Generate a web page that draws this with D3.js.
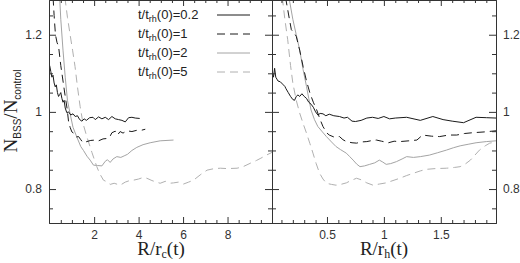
<!DOCTYPE html>
<html>
<head>
<meta charset="utf-8">
<script src="https://cdn.jsdelivr.net/npm/d3@7"></script>
<style>
  body { margin: 0; background: #fff; }
  svg { display: block; }
</style>
</head>
<body>
<div id="chart"></div>
<script>
// legend labels (t / t_rh(0))
var seriesLabels = ["0.2", "1", "2", "5"];

// left panel, x = R / r_c(t)
var rcT02 = [[0.0,1.12],[0.05,1.105],[0.1,1.09],[0.15,1.095],[0.2,1.075],[0.25,1.065],[0.3,1.07],[0.35,1.05],[0.4,1.04],[0.45,1.045],[0.5,1.05],[0.55,1.035],[0.6,1.025],[0.65,1.03],[0.7,1.01],[0.77,0.998],[0.85,1.0],[0.95,0.992],[1.05,0.995],[1.15,0.988],[1.25,0.99],[1.35,0.98],[1.45,0.976],[1.55,0.982],[1.65,0.978],[1.8,0.985],[1.95,0.986],[2.05,0.98],[2.2,0.987],[2.35,0.982],[2.5,0.986],[2.65,0.98],[2.8,0.988],[2.95,0.982],[3.1,0.98],[3.25,0.978],[3.4,0.974],[3.55,0.985],[3.7,0.986],[3.85,0.984],[4.05,0.983]];
var rcT1 = [[0.12,1.33],[0.2,1.25],[0.26,1.2],[0.33,1.18],[0.4,1.17],[0.5,1.12],[0.6,1.08],[0.7,1.04],[0.78,1.01],[0.85,0.975],[0.92,0.96],[1.0,0.948],[1.1,0.944],[1.2,0.935],[1.3,0.936],[1.4,0.928],[1.5,0.92],[1.67,0.923],[1.85,0.926],[2.05,0.927],[2.2,0.925],[2.4,0.93],[2.57,0.931],[2.7,0.935],[2.8,0.946],[2.95,0.95],[3.05,0.94],[3.17,0.949],[3.3,0.945],[3.47,0.951],[3.7,0.949],[3.9,0.952],[4.1,0.952],[4.3,0.955]];
var rcT2 = [[0.42,1.33],[0.5,1.24],[0.6,1.16],[0.7,1.09],[0.8,1.03],[0.92,0.995],[1.05,0.96],[1.22,0.935],[1.4,0.91],[1.52,0.9],[1.68,0.885],[1.82,0.875],[1.97,0.862],[2.15,0.861],[2.35,0.86],[2.5,0.872],[2.6,0.876],[2.72,0.869],[2.85,0.878],[3.02,0.884],[3.2,0.882],[3.35,0.886],[3.5,0.89],[3.7,0.9],[3.92,0.908],[4.2,0.915],[4.52,0.92],[4.97,0.925],[5.57,0.927]];
var rcT5 = [[0.62,1.33],[0.7,1.29],[0.8,1.245],[0.92,1.2],[1.03,1.16],[1.14,1.118],[1.25,1.065],[1.37,1.014],[1.5,0.97],[1.67,0.936],[1.9,0.895],[2.12,0.858],[2.25,0.84],[2.42,0.823],[2.6,0.818],[2.72,0.812],[2.9,0.815],[3.17,0.81],[3.4,0.818],[3.6,0.822],[3.77,0.823],[4.0,0.826],[4.2,0.83],[4.37,0.828],[4.6,0.822],[4.8,0.818],[4.97,0.815],[5.2,0.82],[5.4,0.815],[5.57,0.816],[5.8,0.818],[6.02,0.813],[6.25,0.818],[6.47,0.823],[6.8,0.838],[7.08,0.849],[7.4,0.853],[7.68,0.854],[8.0,0.853],[8.43,0.854],[8.7,0.858],[9.03,0.867],[9.3,0.874],[9.5,0.88],[9.75,0.888],[10.0,0.895]];

// right panel, x = R / r_h(t)
var rhT02 = [[0.017,1.105],[0.03,1.09],[0.04,1.113],[0.05,1.09],[0.06,1.085],[0.07,1.08],[0.09,1.078],[0.11,1.072],[0.13,1.066],[0.14,1.06],[0.16,1.05],[0.18,1.04],[0.2,1.032],[0.215,1.03],[0.23,1.04],[0.245,1.044],[0.26,1.04],[0.28,1.047],[0.3,1.04],[0.32,1.035],[0.34,1.025],[0.36,1.02],[0.38,1.012],[0.4,1.0],[0.42,0.992],[0.44,0.996],[0.465,0.995],[0.49,0.99],[0.52,0.994],[0.56,0.99],[0.61,0.988],[0.65,0.984],[0.68,0.986],[0.72,0.976],[0.75,0.975],[0.8,0.978],[0.85,0.984],[0.9,0.986],[0.95,0.983],[1.0,0.988],[1.05,0.982],[1.1,0.984],[1.2,0.986],[1.32,0.978],[1.43,0.988],[1.52,0.98],[1.6,0.976],[1.7,0.972],[1.81,0.986],[1.9,0.985],[1.985,0.984]];
var rhT1 = [[0.12,1.33],[0.14,1.29],[0.17,1.24],[0.187,1.213],[0.21,1.205],[0.23,1.196],[0.26,1.16],[0.29,1.118],[0.32,1.08],[0.35,1.049],[0.38,1.025],[0.41,1.005],[0.44,0.98],[0.465,0.962],[0.5,0.945],[0.52,0.94],[0.56,0.935],[0.61,0.936],[0.64,0.928],[0.67,0.923],[0.72,0.92],[0.76,0.919],[0.8,0.922],[0.85,0.923],[0.9,0.926],[0.935,0.927],[0.98,0.924],[1.04,0.92],[1.09,0.924],[1.14,0.923],[1.22,0.925],[1.29,0.927],[1.34,0.94],[1.42,0.937],[1.49,0.936],[1.57,0.94],[1.64,0.94],[1.71,0.944],[1.78,0.946],[1.88,0.948],[1.985,0.951]];
var rhT2 = [[0.15,1.33],[0.17,1.29],[0.2,1.24],[0.23,1.2],[0.26,1.161],[0.29,1.11],[0.32,1.066],[0.34,1.035],[0.36,1.005],[0.39,0.98],[0.42,0.962],[0.46,0.948],[0.495,0.936],[0.54,0.922],[0.58,0.91],[0.62,0.902],[0.67,0.893],[0.7,0.884],[0.73,0.875],[0.76,0.865],[0.79,0.858],[0.83,0.86],[0.875,0.864],[0.92,0.868],[0.96,0.875],[0.99,0.87],[1.02,0.864],[1.06,0.866],[1.11,0.871],[1.16,0.878],[1.2,0.884],[1.26,0.882],[1.32,0.884],[1.4,0.888],[1.47,0.894],[1.55,0.901],[1.61,0.907],[1.67,0.912],[1.74,0.916],[1.81,0.92],[1.9,0.923],[1.985,0.925]];
var rhT5 = [[0.09,1.33],[0.11,1.29],[0.13,1.24],[0.155,1.187],[0.18,1.12],[0.2,1.075],[0.23,1.03],[0.26,0.997],[0.29,0.97],[0.32,0.945],[0.35,0.918],[0.377,0.893],[0.405,0.866],[0.435,0.841],[0.465,0.826],[0.495,0.815],[0.54,0.812],[0.58,0.81],[0.62,0.812],[0.67,0.816],[0.71,0.822],[0.76,0.828],[0.8,0.824],[0.85,0.816],[0.905,0.81],[0.96,0.813],[1.02,0.816],[1.08,0.822],[1.14,0.828],[1.2,0.835],[1.26,0.841],[1.32,0.847],[1.37,0.851],[1.45,0.853],[1.55,0.854],[1.62,0.856],[1.67,0.858],[1.72,0.866],[1.76,0.875],[1.8,0.888],[1.84,0.901],[1.89,0.912],[1.93,0.919],[1.985,0.922]];

// tick values
var yMajor = [0.8, 1, 1.2];
var yMinor = [0.75, 0.85, 0.9, 0.95, 1.05, 1.1, 1.15, 1.25];
var rcMajor = [2, 4, 6, 8];
var rcMinor = [0.5, 1, 1.5, 2.5, 3, 3.5, 4.5, 5, 5.5, 6.5, 7, 7.5, 8.5, 9, 9.5];
var rhMajor = [0.5, 1, 1.5];
var rhMinor = [0.1, 0.2, 0.3, 0.4, 0.6, 0.7, 0.8, 0.9, 1.1, 1.2, 1.3, 1.4, 1.6, 1.7, 1.8, 1.9];

var width = 520, height = 263;
// frame edges in pixels ("top" is taken by window, so plotTop)
var plotTop = 0, plotBottom = 223, plotLeft = 49, plotMid = 272, plotRight = 496;

// line styles for the four runs
var styles = [
  {color: "#1a1a1a", dash: null},
  {color: "#1a1a1a", dash: "8,5"},
  {color: "#a4a4a4", dash: null},
  {color: "#b0b0b0", dash: "8,5"}
];

var serif = "'Liberation Serif', 'Times New Roman', serif";
var sans = "'Liberation Sans', Arial, sans-serif";

var svg = d3.select("#chart").append("svg")
  .attr("width", width)
  .attr("height", height);

var y = d3.scaleLinear().domain([0.712, 1.29]).range([plotBottom, plotTop]);
var xRc = d3.scaleLinear().domain([-0.03, 10.0]).range([plotLeft, plotMid]);
var xRh = d3.scaleLinear().domain([0.017, 1.985]).range([plotMid, plotRight]);

var defs = svg.append("defs");
defs.append("clipPath").attr("id", "clipL").append("rect")
  .attr("x", plotLeft).attr("y", plotTop)
  .attr("width", plotMid - plotLeft).attr("height", plotBottom - plotTop);
defs.append("clipPath").attr("id", "clipR").append("rect")
  .attr("x", plotMid).attr("y", plotTop)
  .attr("width", plotRight - plotMid).attr("height", plotBottom - plotTop);

function drawLines(x, data, clip) {
  var line = d3.line().x(function(d) { return x(d[0]); }).y(function(d) { return y(d[1]); });
  var g = svg.append("g").attr("clip-path", "url(#" + clip + ")");
  // gray ones first so the black lines sit on top
  [2, 3, 0, 1].forEach(function(i) {
    g.append("path")
      .datum(data[i])
      .attr("d", line)
      .attr("fill", "none")
      .attr("stroke", styles[i].color)
      .attr("stroke-width", 1)
      .attr("stroke-dasharray", styles[i].dash);
  });
}

drawLines(xRc, [rcT02, rcT1, rcT2, rcT5], "clipL");
drawLines(xRh, [rhT02, rhT1, rhT2, rhT5], "clipR");

// axes: all ticks point inward
function addAxis(axis, tx, ty, values, size, labels) {
  axis.tickValues(values).tickSizeInner(-size).tickSizeOuter(0).tickPadding(7);
  if (labels) axis.tickFormat(d3.format("~g"));
  var g = svg.append("g")
    .attr("transform", "translate(" + tx + "," + ty + ")")
    .attr("color", "#333")
    .call(axis);
  if (labels) {
    g.selectAll("text").style("font-family", sans).style("font-size", "12px").attr("fill", "#333");
  } else {
    g.selectAll("text").remove();
  }
}

// left panel
addAxis(d3.axisLeft(y), plotLeft, 0, yMajor, 7, true);
addAxis(d3.axisLeft(y), plotLeft, 0, yMinor, 4, false);
addAxis(d3.axisRight(y), plotMid, 0, yMajor, 7, false);
addAxis(d3.axisRight(y), plotMid, 0, yMinor, 4, false);
addAxis(d3.axisBottom(xRc), 0, plotBottom, rcMajor, 6, true);
addAxis(d3.axisBottom(xRc), 0, plotBottom, rcMinor, 3, false);
addAxis(d3.axisTop(xRc), 0, plotTop, rcMajor, 6, false);
addAxis(d3.axisTop(xRc), 0, plotTop, rcMinor, 3, false);

// right panel
addAxis(d3.axisLeft(y), plotMid, 0, yMajor, 7, false);
addAxis(d3.axisLeft(y), plotMid, 0, yMinor, 4, false);
addAxis(d3.axisRight(y), plotRight, 0, yMajor, 7, true);
addAxis(d3.axisRight(y), plotRight, 0, yMinor, 4, false);
addAxis(d3.axisBottom(xRh), 0, plotBottom, rhMajor, 6, true);
addAxis(d3.axisBottom(xRh), 0, plotBottom, rhMinor, 3, false);
addAxis(d3.axisTop(xRh), 0, plotTop, rhMajor, 6, false);
addAxis(d3.axisTop(xRh), 0, plotTop, rhMinor, 3, false);

// axis titles
function xTitle(cx, sub) {
  var t = svg.append("text")
    .attr("x", cx).attr("y", 255)
    .attr("text-anchor", "middle")
    .style("font-family", serif).style("font-size", "19px").style("fill", "#222");
  t.append("tspan").text("R/r");
  t.append("tspan").attr("dy", 3).style("font-size", "12px").text(sub);
  t.append("tspan").attr("dy", -3).text("(t)");
}
xTitle(161, "c");
xTitle(384, "h");

var yt = svg.append("text")
  .attr("transform", "translate(17,111) rotate(-90)")
  .attr("text-anchor", "middle")
  .style("font-family", serif).style("font-size", "19px").style("fill", "#222");
yt.append("tspan").text("N");
yt.append("tspan").attr("dy", 4).style("font-family", sans).style("font-size", "10px").text("BSS");
yt.append("tspan").attr("dy", -4).text("/N");
yt.append("tspan").attr("dy", 4).style("font-family", sans).style("font-size", "10px").text("control");

// legend
var legend = svg.append("g");
seriesLabels.forEach(function(lab, i) {
  var ly = 15 + i * 19;
  var t = legend.append("text")
    .attr("x", 138).attr("y", ly + 4)
    .style("font-family", sans).style("font-size", "13px").style("fill", "#222");
  t.append("tspan").text("t/t");
  t.append("tspan").attr("dy", 3).style("font-size", "9px").text("rh");
  t.append("tspan").attr("dy", -3).text("(0)=" + lab);
  legend.append("line")
    .attr("x1", 217).attr("x2", 250).attr("y1", ly).attr("y2", ly)
    .attr("stroke", styles[i].color)
    .attr("stroke-width", 1)
    .attr("stroke-dasharray", styles[i].dash);
});
</script>
</body>
</html>
